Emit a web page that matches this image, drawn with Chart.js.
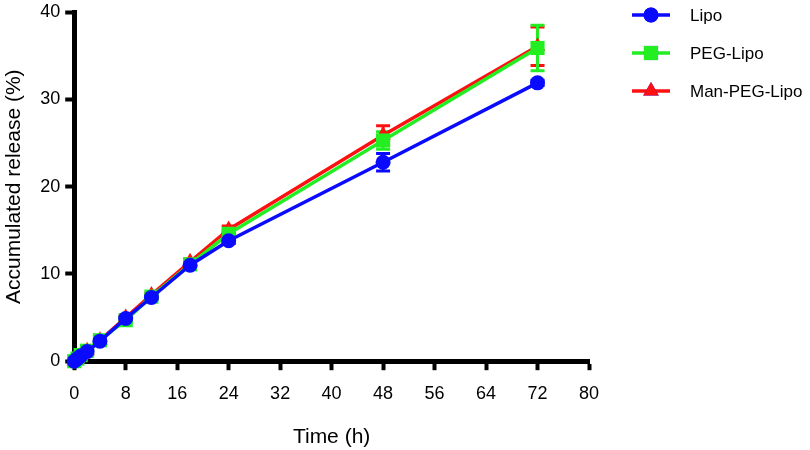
<!DOCTYPE html>
<html>
<head>
<meta charset="utf-8">
<script src="https://cdn.jsdelivr.net/npm/chart.js@4/dist/chart.umd.min.js"></script>
<style>
    html,body{margin:0;padding:0;background:#fff;}
    #wrap{width:810px;height:450px;}
</style>
</head>
<body>
<div id="wrap"><canvas id="releaseChart" width="810" height="450"></canvas></div>
<script>
// data
var times = [0, 0.5, 1, 2, 4, 8, 12, 18, 24, 48, 72];
var lipo = [0, 0.3, 0.6, 1.1, 2.3, 4.9, 7.3, 11.0, 13.8, 22.8, 31.9];
var pegLipo = [0, 0.3, 0.7, 1.2, 2.4, 4.7, 7.4, 11.1, 14.6, 25.3, 35.9];
var manPegLipo = [0, 0.3, 0.7, 1.2, 2.4, 5.0, 7.6, 11.4, 15.1, 25.9, 36.1];
var lipoErr = [0, 0, 0, 0, 0.1, 0.2, 0.2, 0.3, 0.3, 1.0, 0.3];
var pegLipoErr = [0, 0, 0, 0, 0.1, 0.2, 0.2, 0.3, 0.4, 1.0, 2.6];
var manPegLipoErr = [0, 0, 0, 0, 0.1, 0.2, 0.2, 0.3, 0.4, 1.1, 2.2];
var seriesNames = ['Lipo', 'PEG-Lipo', 'Man-PEG-Lipo'];
var xTicks = [0, 8, 16, 24, 32, 40, 48, 56, 64, 72, 80];
var yTicks = [0, 10, 20, 30, 40];

var colors = ['#0a0aff', '#22ee22', '#ff1010'];
var shapes = ['circle', 'rect', 'triangle'];
var radii = [7.5, 10, 9];
var font = '"Liberation Sans", Arial, sans-serif';

function toPoints(ys){
    return times.map((t,i)=>({x:t, y:ys[i]}));
}

//================ error bars =================
var errorBars = {
    id:'errorBars',
    beforeDatasetsDraw(chart){
        var ctx = chart.ctx, xs = chart.scales.x, ys = chart.scales.y;
        var errs = [lipoErr, pegLipoErr, manPegLipoErr];
        for(let d = chart.data.datasets.length-1; d>=0; d--){
            var ds = chart.data.datasets[d];
            ctx.save();
            ctx.strokeStyle = colors[d];
            ctx.lineWidth = 3;
            ds.data.forEach((p,i)=>{
                var e = errs[d][i];
                if(!e) return;
                var px = xs.getPixelForValue(p.x);
                var top = ys.getPixelForValue(p.y + e), bot = ys.getPixelForValue(p.y - e);
                ctx.beginPath();
                ctx.moveTo(px, top); ctx.lineTo(px, bot);
                ctx.moveTo(px-7, top); ctx.lineTo(px+7, top);
                ctx.moveTo(px-7, bot); ctx.lineTo(px+7, bot);
                ctx.stroke();
            });
            ctx.restore();
        }
    }
};

//================ legend =================
var sideLegend = {
    id:'sideLegend',
    afterDraw(chart){
        var ctx = chart.ctx;
        var x0 = 632, y0 = 15, gap = 38;
        seriesNames.forEach((name,i)=>{
            var y = y0 + i*gap;
            ctx.save();
            ctx.strokeStyle = colors[i];
            ctx.lineWidth = 3.5;
            ctx.beginPath();
            ctx.moveTo(x0, y); ctx.lineTo(x0+38, y);
            ctx.stroke();
            Chart.helpers.drawPoint(ctx, {pointStyle:shapes[i], radius:radii[i], borderWidth:0}, x0+19, y);
            ctx.fillStyle = colors[i];
            ctx.fill();
            ctx.fillStyle = '#000';
            ctx.font = '17px ' + font;
            ctx.textBaseline = 'middle';
            ctx.fillText(name, x0+58, y+1);
            ctx.restore();
        });
    }
};

var ctx = document.getElementById('releaseChart').getContext('2d');
var chart = new Chart(ctx, {
    type:'line',
    data:{
        datasets: [lipo, pegLipo, manPegLipo].map((vals,i)=>({
            label: seriesNames[i],
            data: toPoints(vals),
            borderColor: colors[i],
            backgroundColor: colors[i],
            borderWidth: 3.5,
            pointStyle: shapes[i],
            pointRadius: radii[i],
            pointBorderWidth: 0,
            pointHoverRadius: radii[i],
            tension: 0,
            clip: false
        }))
    },
    options:{
        responsive:false,
        animation:false,
        layout:{padding:{left:2, right:221, top:0, bottom:0}},
        plugins:{
            legend:{display:false},
            tooltip:{enabled:false}
        },
        scales:{
            x:{
                type:'linear', min:0, max:80,
                afterBuildTicks(axis){ axis.ticks = xTicks.map(v=>({value:v})); },
                grid:{drawOnChartArea:false, tickLength:9, tickWidth:4, color:'#000'},
                border:{color:'#000', width:5},
                ticks:{color:'#000', padding:13, maxRotation:0, font:{family:font, size:18}},
                title:{display:true, text:'Time (h)', color:'#000', padding:{top:7, bottom:0},
                    font:{family:font, size:21}}
            },
            y:{
                type:'linear', min:0, max:40,
                afterBuildTicks(axis){ axis.ticks = yTicks.map(v=>({value:v})); },
                grid:{drawOnChartArea:false, tickLength:9, tickWidth:4, color:'#000'},
                border:{color:'#000', width:5},
                ticks:{color:'#000', padding:5, font:{family:font, size:18, lineHeight:0.8}},
                title:{display:true, text:'Accumulated release (%)', color:'#000', padding:{top:0, bottom:8},
                    font:{family:font, size:21}}
            }
        }
    },
    plugins:[errorBars, sideLegend]
});
</script>
</body>
</html>
